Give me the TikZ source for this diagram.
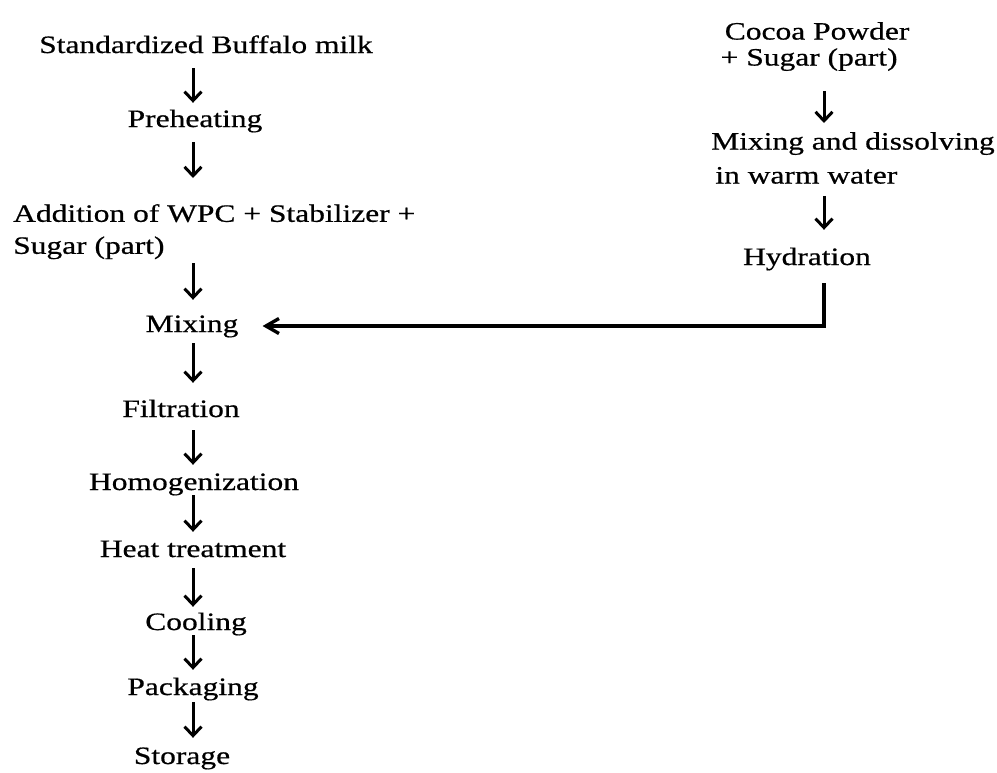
\documentclass[tikz,border=0pt]{standalone}
\usepackage{fontspec}
\setmainfont{Liberation Serif}[FakeStretch=1.26, FakeBold=0.6]
\usepackage{tikz}
\usetikzlibrary{positioning, arrows.meta}

\begin{document}
\begin{tikzpicture}[
        % Define styles for consistency
        x=1pt, y=-1pt,
        stage/.style={inner sep=0pt, anchor=base, text height=17pt, text depth=5pt,
            font=\fontsize{25}{30}\selectfont},
        block/.style={inner sep=0pt, font=\fontsize{25}{30}\selectfont},
        flow/.style={-{Straight Barb[length=9pt, width=17pt, line width=3pt]}, line width=3pt},
        feed/.style={-{Straight Barb[length=13pt, width=15pt]}, line width=3.4pt}
    ]

        \useasboundingbox (0,0) rectangle (997,772);

        % --- Coordinates ---
        % Main spine (left) and side spine (right)
        \coordinate (spine) at (193, 0);
        \coordinate (rspine) at (824, 0);

        % --- Draw Nodes ---
        % Main line
        \node[stage] (milk) at (206, 53) {Standardized Buffalo milk};
        \node[stage] (preheat) at (195, 127) {Preheating};
        \node[block, anchor=north west, align=left] (addition) at (13, 204)
            {Addition of WPC + Stabilizer +\\[2pt]Sugar (part)};
        \node[stage] (mixing) at (192, 332) {Mixing};
        \node[stage] (filter) at (181, 417) {Filtration};
        \node[stage] (homog) at (194, 490) {Homogenization};
        \node[stage] (heat) at (193, 557) {Heat treatment};
        \node[stage] (cooling) at (196, 630) {Cooling};
        \node[stage] (packing) at (193, 695) {Packaging};
        \node[stage] (storage) at (182, 764) {Storage};

        % Side line
        \node[block, anchor=north, align=left] (cocoa) at (815, 22)
            {\,Cocoa Powder\\[-4pt]+ Sugar (part)};
        \node[block, anchor=north west, align=left] (dissolve) at (711, 132)
            {Mixing and dissolving\\[4pt]\,in warm water};
        \node[stage] (hydrate) at (807, 265) {Hydration};

        % --- Draw Edges ---
        % Main line arrows
        \draw[flow, shorten <=10pt, shorten >=7pt] (milk.south -| spine) -- (preheat.north -| spine);
        \draw[flow, shorten <=10pt, shorten >=26pt] (preheat.south -| spine) -- (addition.north -| spine);
        \draw[flow, shorten <=4pt, shorten >=15pt] (addition.south -| spine) -- (mixing.north -| spine);
        \draw[flow, shorten <=6pt, shorten >=17pt] (mixing.south -| spine) -- (filter.north -| spine);
        \draw[flow, shorten <=8pt, shorten >=8pt] (filter.south -| spine) -- (homog.north -| spine);
        \draw[flow, shorten <=0pt, shorten >=8pt] (homog.south -| spine) -- (heat.north -| spine);
        \draw[flow, shorten <=6pt, shorten >=6pt] (heat.south -| spine) -- (cooling.north -| spine);
        \draw[flow, shorten <=0pt, shorten >=8pt] (cooling.south -| spine) -- (packing.north -| spine);
        \draw[flow, shorten <=2pt, shorten >=9pt] (packing.south -| spine) -- (storage.north -| spine);

        % Side line arrows
        \draw[flow, shorten <=20pt, shorten >=9pt] (cocoa.south -| rspine) -- (dissolve.north -| rspine);
        \draw[flow, shorten <=12pt, shorten >=18pt] (dissolve.south -| rspine) -- (hydrate.north -| rspine);

        % Feed into mixing
        \draw[feed, shorten <=13pt, shorten >=24pt] (hydrate.south -| rspine) |- (mixing.east);

\end{tikzpicture}
\end{document}
